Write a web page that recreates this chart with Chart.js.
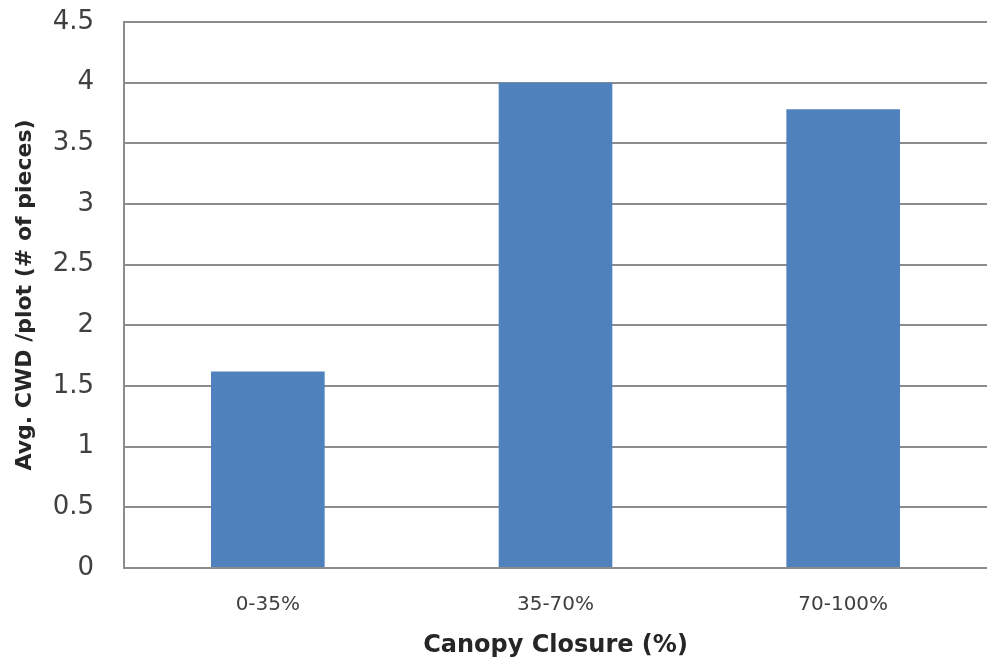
<!DOCTYPE html>
<html>
<head>
<meta charset="utf-8">
<script src="https://cdn.jsdelivr.net/npm/chart.js@4.4.1/dist/chart.umd.min.js"></script>
<style>
  html, body { margin: 0; padding: 0; background: #fff; }
  #wrap { width: 987px; height: 666px; }
</style>
</head>
<body>
<div id="wrap"><canvas id="chart" width="987" height="666"></canvas></div>
<script>
const categories = ['0-35%', '35-70%', '70-100%'];
const avgCwd = [1.62, 4.0, 3.78];
const yTicks = [0, 0.5, 1, 1.5, 2, 2.5, 3, 3.5, 4, 4.5];

const gridColor = '#8c8c8c';
const font = 'DejaVu Sans';

const chart = new Chart(document.getElementById('chart'), {
    type: 'bar',
    data: {
        labels: categories,
        datasets: [{
            label: 'Avg. CWD',
            data: avgCwd,
            backgroundColor: '#4f81bd',
            borderWidth: 0,
            categoryPercentage: 1,
            barPercentage: 0.395
        }]
    },
    options: {
        responsive: false,
        animation: false,
        layout: { padding: { left: 12, right: 0, top: 22, bottom: 6 } },
        plugins: {
            legend: { display: false },
            tooltip: { enabled: false }
        },
        scales: {
            x: {
                afterFit: (scale) => { scale.height = 92; },
                grid: { display: false, drawTicks: false },
                border: { color: gridColor, width: 2 },
                ticks: {
                    color: '#404040',
                    font: { family: font, size: 20 },
                    padding: 25
                },
                title: {
                    display: true,
                    text: 'Canopy Closure (%)',
                    color: '#262626',
                    font: { family: font, size: 24, weight: 'bold' },
                    padding: { top: 0, bottom: 0 }
                }
            },
            y: {
                min: 0,
                max: 4.5,
                afterFit: (scale) => {
                    scale.width = 112;
                    // tick padding otherwise pushes the plot top down
                    scale.paddingTop = 0;
                    scale.paddingBottom = 0;
                },
                afterBuildTicks: (axis) => {
                    axis.ticks = yTicks.map(v => ({ value: v }));
                },
                grid: { color: gridColor, lineWidth: 2, drawTicks: false },
                border: { color: gridColor, width: 2 },
                ticks: {
                    color: '#404040',
                    font: { family: font, size: 26 },
                    padding: 30,
                    callback: (v) => String(v)
                },
                title: {
                    display: true,
                    text: 'Avg. CWD /plot (# of pieces)',
                    color: '#262626',
                    font: { family: font, size: 22, weight: 'bold' },
                    padding: { top: 0, bottom: 0 }
                }
            }
        }
    }
});
</script>
</body>
</html>
